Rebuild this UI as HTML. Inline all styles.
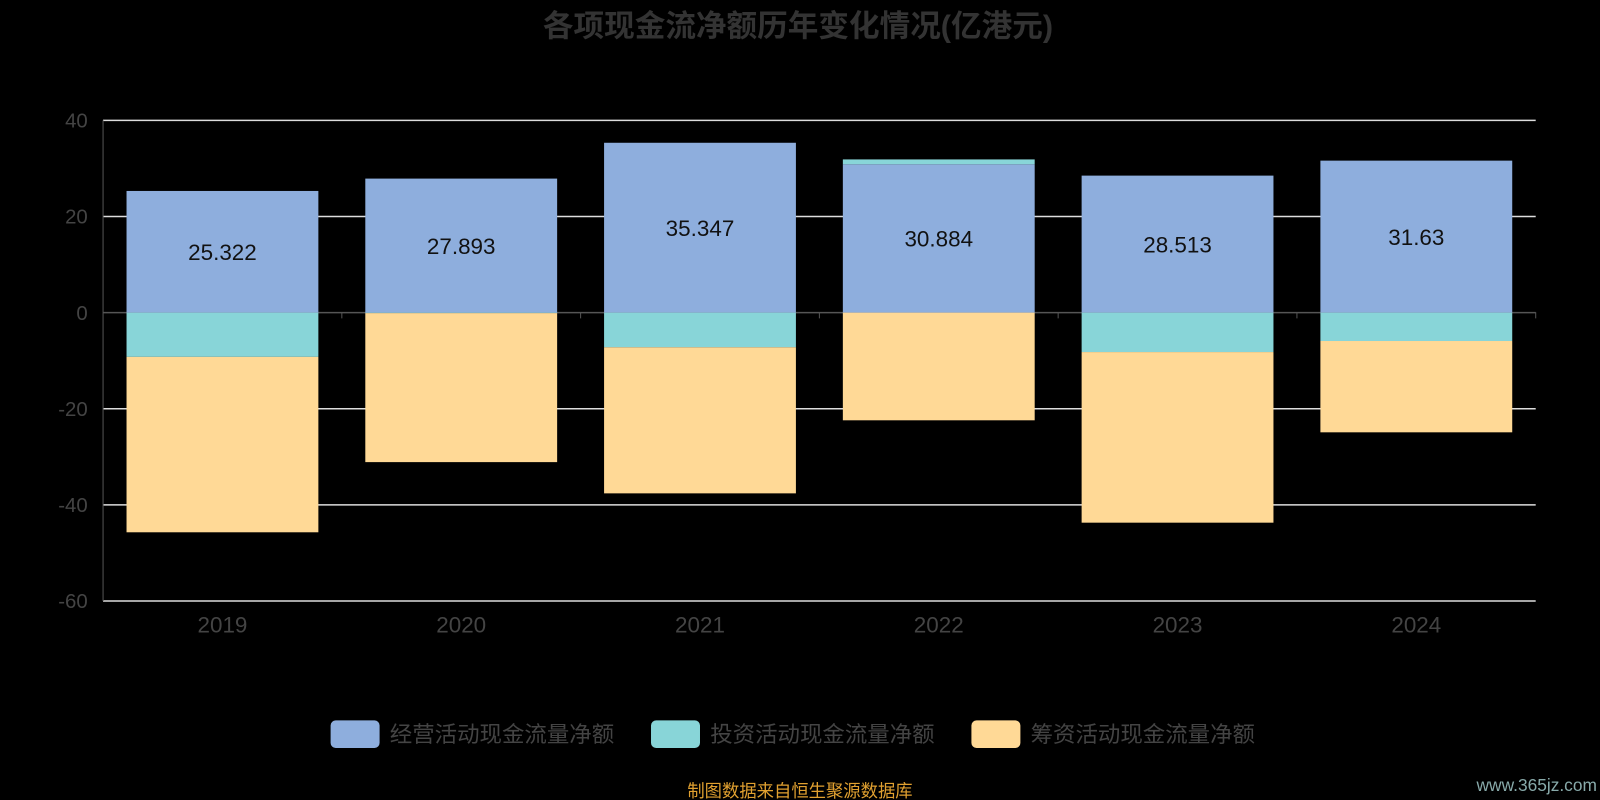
<!DOCTYPE html>
<html><head><meta charset="utf-8"><style>
body{margin:0;background:#000;width:1600px;height:800px;overflow:hidden;font-family:"Liberation Sans","Noto Sans CJK SC",sans-serif}
</style></head><body>
<svg width="1600" height="800" style="position:absolute;left:0;top:0"><g id="c" transform="scale(1.0204)"></g></svg>
<script>
const years=["2019","2020","2021","2022","2023","2024"];
const operating=[25.322,27.893,35.347,30.884,28.513,31.63];
const investing=[-9.2,-0.1,-7.2,1.0,-8.2,-5.9];
const financing=[-36.5,-31.0,-30.4,-22.4,-35.5,-19.0];
const yTicks=[40,20,0,-20,-40,-60];
const legendNames=["经营活动现金流量净额","投资活动现金流量净额","筹资活动现金流量净额"];
const colors=["#8eaedd","#88d5d8","#ffd996"];
const NS="http://www.w3.org/2000/svg",svg=document.getElementById('c');
const L=101,R=1505,yMax=40,yMin=-60,T=118,B=589;
const y=v=>T+(yMax-v)*(B-T)/(yMax-yMin);
const bw=(R-L)/years.length;
function mk(t,a,txt){const e=document.createElementNS(NS,t);for(const k in a)e.setAttribute(k,a[k]);if(txt!=null)e.textContent=txt;svg.appendChild(e);return e;}
let e=mk('text',{x:782,y:36,'text-anchor':'middle','font-size':30,'font-weight':'bold',fill:'#333'},'各项现金流净额历年变化情况(亿港元)');


yTicks.forEach(t=>{
 const l=mk('line',{x1:L,x2:R,y1:y(t),y2:y(t),stroke:t===0?'#555':'#ddd','stroke-width':1.5});
 
 
 const tx=mk('text',{x:86,y:y(t)+7,'text-anchor':'end','font-size':20,fill:'#444'},t);
 
 
});
e=mk('line',{x1:L,x2:L,y1:T,y2:B,stroke:'#555'});


years.forEach((yr,i)=>{
 const x0=L+i*bw+23,w=bw-46;
 let pos=0,neg=0;
 [operating[i],investing[i],financing[i]].forEach((v,s)=>{
  let top,bot;
  if(v>=0){top=y(pos+v);bot=y(pos);pos+=v;}else{top=y(neg);bot=y(neg+v);neg+=v;}
  const r=mk('rect',{x:x0,y:top,width:w,height:Math.max(0,bot-top),fill:colors[s]});
  
  
 });
 const lb=mk('text',{x:x0+w/2,y:y(operating[i]/2)+8,'text-anchor':'middle','font-size':22,fill:'#111'},operating[i]);
 
 
 const tk=mk('line',{x1:L+(i+1)*bw,x2:L+(i+1)*bw,y1:306,y2:312,stroke:'#555'});
 
 
 const xl=mk('text',{x:L+i*bw+bw/2,y:620,'text-anchor':'middle','font-size':22,fill:'#444'},yr);
 
 
});
const lx=[324,638,952];
legendNames.forEach((n,i)=>{
 const r=mk('rect',{x:lx[i],y:706,width:48,height:27,rx:5,fill:colors[i]});
 
 
 const t=mk('text',{x:lx[i]+58,y:727,'font-size':22,fill:'#444'},n);
 
 
});
e=mk('text',{x:784,y:781,'text-anchor':'middle','font-size':17,fill:'#e0a030'},'制图数据来自恒生聚源数据库');


e=mk('text',{x:1565,y:775,'text-anchor':'end','font-size':17,fill:'#8aa'},'www.365jz.com');


</script>
</body></html>
